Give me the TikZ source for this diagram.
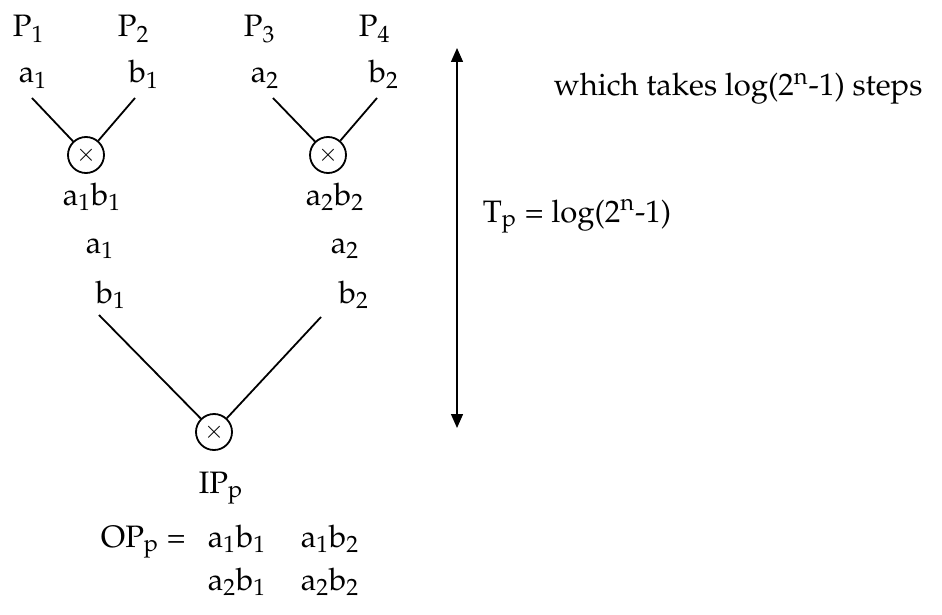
\documentclass[tikz,border=0pt]{standalone}
\usepackage[T1]{fontenc}
\usepackage{mathpazo}
\usetikzlibrary{arrows.meta}

\begin{document}
\begin{tikzpicture}[x=.5pt,y=-.5pt,line width=.9pt,
  lbl/.style={anchor=base west,inner sep=0pt,font=\fontsize{15.5}{18}\selectfont},
  mult/.style={draw,circle,minimum size=18pt,inner sep=0pt,font=\large}]
\useasboundingbox (0,0) rectangle (942,615);
% processors and their operands
\node[lbl] (p1) at (12,37) {P\textsubscript{1}};
\node[lbl] (p2) at (117,37) {P\textsubscript{2}};
\node[lbl] (p3) at (243,37) {P\textsubscript{3}};
\node[lbl] (p4) at (358,37) {P\textsubscript{4}};
\node[lbl] (a1) at (18,83) {a\textsubscript{1}};
\node[lbl] (b1) at (128,83) {b\textsubscript{1}};
\node[lbl] (a2) at (250,83) {a\textsubscript{2}};
\node[lbl] (b2) at (368,83) {b\textsubscript{2}};
% first level products
\node[mult] (m1) at (86,155) {$\times$};
\node[mult] (m2) at (328,155) {$\times$};
\node[lbl] (ab1) at (62,205) {a\textsubscript{1}b\textsubscript{1}};
\node[lbl] (ab2) at (305,205) {a\textsubscript{2}b\textsubscript{2}};
\node[lbl] (a1low) at (85,253) {a\textsubscript{1}};
\node[lbl] (a2low) at (330,253) {a\textsubscript{2}};
\node[lbl] (b1low) at (95,303) {b\textsubscript{1}};
\node[lbl] (b2low) at (338,303) {b\textsubscript{2}};
% second level product
\node[mult] (m3) at (214,432) {$\times$};
\node[lbl] (ip) at (198,493) {IP\textsubscript{p}};
\node[lbl] (op) at (100,547) {OP\textsubscript{p} =};
\node[lbl] (op11) at (207,547) {a\textsubscript{1}b\textsubscript{1}};
\node[lbl] (op12) at (300,547) {a\textsubscript{1}b\textsubscript{2}};
\node[lbl] (op21) at (207,590) {a\textsubscript{2}b\textsubscript{1}};
\node[lbl] (op22) at (300,590) {a\textsubscript{2}b\textsubscript{2}};
% wires
\coordinate (s1) at (32,98);
\coordinate (s2) at (135,98);
\coordinate (s3) at (273,98);
\coordinate (s4) at (377,98);
\coordinate (s5) at (99,315);
\coordinate (s6) at (321,317);
\draw (s1) -- (m1);
\draw (s2) -- (m1);
\draw (s3) -- (m2);
\draw (s4) -- (m2);
\draw (s5) -- (m3);
\draw (s6) -- (m3);
% time span
\coordinate (ttop) at (457,48);
\coordinate (tbot) at (457,428);
\draw[line width=.7pt,{Triangle[length=7pt,width=6pt]}-{Triangle[length=7pt,width=6pt]}] (ttop) -- (tbot);
\node[lbl] (tp) at (482,222) {T\textsubscript{p} = log(2\textsuperscript{n}-1)};
\node[lbl] (steps) at (553,96) {which takes log(2\textsuperscript{n}-1) steps};
\end{tikzpicture}
\end{document}
